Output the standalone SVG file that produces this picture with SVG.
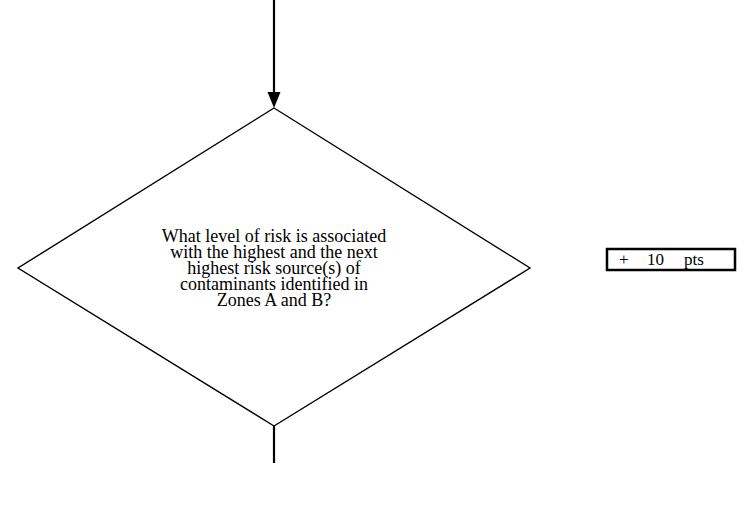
<svg xmlns="http://www.w3.org/2000/svg" width="748" height="518" viewBox="0 0 748 518">
  <style>
    .shape { fill: none; stroke: #000; stroke-width: 1.4; }
    .lbl { font-family: "Liberation Serif", "Times New Roman", serif; font-size: 18px; fill: #000; text-anchor: middle; }
    .pts { font-family: "Liberation Serif", "Times New Roman", serif; font-size: 17px; fill: #000; }
    .flow { stroke: #000; stroke-width: 2.2; fill: none; }
  </style>
  <rect width="748" height="518" fill="#fff"/>

  <g id="connectors">
    <line class="flow" x1="274" y1="0" x2="274" y2="93"/>
    <polygon points="267.5,92 280.5,92 274,108" fill="#000"/>
    <line class="flow" x1="274" y1="426" x2="274" y2="463" stroke-width="2.6"/>
  </g>

  <g id="decision-risk-level">
    <polygon class="shape" points="274,108 530,268 274,426 18,268"/>
    <text class="lbl" x="274" y="242">What level of risk is associated</text>
    <text class="lbl" x="274" y="258">with the highest and the next</text>
    <text class="lbl" x="274" y="274">highest risk source(s) of</text>
    <text class="lbl" x="274" y="290">contaminants identified in</text>
    <text class="lbl" x="274" y="306">Zones A and B?</text>
  </g>

  <g id="score-box">
    <rect x="607" y="249" width="128" height="21" fill="none" stroke="#000" stroke-width="2.5"/>
    <text class="pts" x="619" y="265">+</text>
    <text class="pts" x="647" y="265">10</text>
    <text class="pts" x="684" y="265">pts</text>
  </g>
</svg>
